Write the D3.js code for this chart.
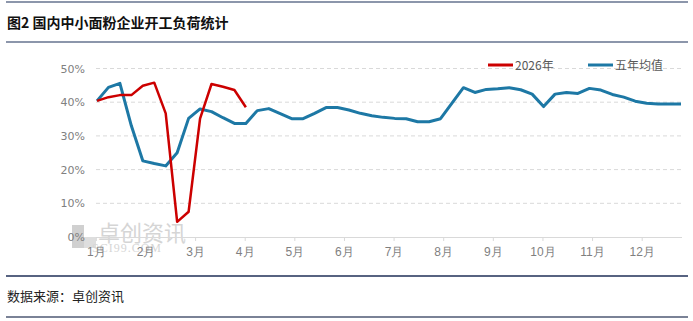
<!DOCTYPE html>
<html>
<head>
<meta charset="utf-8">
<script src="https://cdn.jsdelivr.net/npm/d3@7"></script>
<style>
  body { margin: 0; background: #fff; }
  svg { display: block; }
</style>
</head>
<body>
<svg></svg>
<script>
// data, weekly values (%)
var monthLabels = ["1月","2月","3月","4月","5月","6月","7月","8月","9月","10月","11月","12月"];
var yTicks = [0, 10, 20, 30, 40, 50];
var seriesNames = ["2026年", "五年均值"];
var avg5 = [40.4, 44.4, 45.6, 33.0, 22.6, 21.8, 21.1, 25.0, 35.2, 38.0,
            37.2, 35.4, 33.7, 33.7, 37.5, 38.1, 36.6, 35.1, 35.1, 36.7,
            38.4, 38.4, 37.7, 36.7, 36.0, 35.5, 35.2, 35.1, 34.2, 34.2,
            35.1, 39.7, 44.3, 42.9, 43.8, 44.0, 44.3, 43.7, 42.4, 38.7,
            42.4, 42.9, 42.6, 44.1, 43.6, 42.3, 41.5, 40.3, 39.7, 39.5,
            39.5, 39.5];
var y2026 = [40.4, 41.5, 42.1, 42.1, 44.9, 45.8, 36.7, 4.5, 7.5, 35.1,
             45.4, 44.6, 43.6, 38.5];

var W = 693, H = 321;
var colors = ["#cc0000", "#1d78a5"];

var svg = d3.select("svg")
    .attr("width", W)
    .attr("height", H)
    .style("font-family", "'Noto Sans CJK SC', 'DejaVu Sans', sans-serif");

// header / footer rules
svg.append("line").attr("x1", 6).attr("x2", 688).attr("y1", 2).attr("y2", 2)
    .attr("stroke", "#66738f").attr("stroke-width", 1.5);
svg.append("line").attr("x1", 6).attr("x2", 688).attr("y1", 42).attr("y2", 42)
    .attr("stroke", "#66738f").attr("stroke-width", 1.5);
svg.append("line").attr("x1", 6).attr("x2", 688).attr("y1", 276).attr("y2", 276)
    .attr("stroke", "#1f2f57").attr("stroke-width", 1.5);
svg.append("line").attr("x1", 6).attr("x2", 688).attr("y1", 317).attr("y2", 317)
    .attr("stroke", "#4e5873").attr("stroke-width", 1.5);

svg.append("text").attr("x", 7).attr("y", 28)
    .attr("font-size", 14).attr("font-weight", "bold").attr("fill", "#111")
    .text("图2 国内中小面粉企业开工负荷统计");

svg.append("text").attr("x", 7).attr("y", 301)
    .attr("font-size", 13).attr("fill", "#222")
    .text("数据来源：卓创资讯");

// scales
var x = d3.scaleLinear().domain([0, avg5.length - 1]).range([97, 681]);
var y = d3.scaleLinear().domain([0, 50]).range([237, 68.5]);
var weeksPerMonth = avg5.length / 12;

// watermark (logo + text)
var wm = svg.append("g").attr("opacity", 0.55);
wm.append("rect").attr("x", 72).attr("y", 225).attr("width", 12).attr("height", 23).attr("fill", "#aaa");
wm.append("rect").attr("x", 84).attr("y", 237).attr("width", 12).attr("height", 11).attr("fill", "#c4c4c4");
wm.append("text").attr("x", 98).attr("y", 241).attr("font-size", 22).attr("fill", "#b4b4b4")
    .text("卓创资讯");
wm.append("text").attr("x", 92).attr("y", 252).attr("font-size", 12)
    .attr("letter-spacing", 1)
    .attr("font-family", "'Liberation Serif', serif").attr("fill", "#b4b4b4")
    .text("SCI99.COM");

// grid
svg.append("g").selectAll("line")
    .data(yTicks.filter(function(d){ return d > 0; }))
    .join("line")
    .attr("x1", 96).attr("x2", 682)
    .attr("y1", function(d){ return y(d); }).attr("y2", function(d){ return y(d); })
    .attr("stroke", "#d9d9d9").attr("stroke-dasharray", "4,3");

// y axis labels
var yAxis = svg.append("g")
    .attr("transform", "translate(96,0)")
    .call(d3.axisLeft(y).tickValues(yTicks).tickFormat(function(d){ return d + "%"; }).tickSize(0).tickPadding(11));
yAxis.select(".domain").remove();
yAxis.selectAll("text").attr("font-size", 11).attr("fill", "#808080")
    .attr("font-family", "'DejaVu Sans', sans-serif");

// x axis
var monthPos = monthLabels.map(function(d, i){ return i * weeksPerMonth - 0.1; });
var xAxis = svg.append("g")
    .attr("transform", "translate(0,237)")
    .call(d3.axisBottom(x).tickValues(monthPos)
        .tickFormat(function(d, i){ return monthLabels[i]; })
        .tickSize(4).tickPadding(6).tickSizeOuter(0));
xAxis.select(".domain").attr("stroke", "#d9d9d9").attr("d", "M96,0.5H682");
xAxis.selectAll(".tick line").attr("stroke", "#d9d9d9");
xAxis.selectAll("text").attr("font-size", 12).attr("fill", "#7f7f7f");

// lines
var line = d3.line()
    .x(function(d, i){ return x(i); })
    .y(function(d){ return y(d); });

svg.append("path").datum(avg5).attr("d", line)
    .attr("fill", "none").attr("stroke", colors[1]).attr("stroke-width", 3)
    .attr("stroke-linejoin", "round");
svg.append("path").datum(y2026).attr("d", line)
    .attr("fill", "none").attr("stroke", colors[0]).attr("stroke-width", 2.5)
    .attr("stroke-linejoin", "round");

// legend
var legX = [488, 588];
var leg = svg.append("g").selectAll("g").data(seriesNames).join("g")
    .attr("transform", function(d, i){ return "translate(" + legX[i] + ",65)"; });
leg.append("line").attr("x1", 0).attr("x2", 25)
    .attr("stroke", function(d, i){ return colors[i]; }).attr("stroke-width", 3);
leg.append("text").attr("x", 27).attr("y", 4.5)
    .attr("font-size", 12).attr("fill", "#595959")
    .text(function(d){ return d; });
</script>
</body>
</html>
